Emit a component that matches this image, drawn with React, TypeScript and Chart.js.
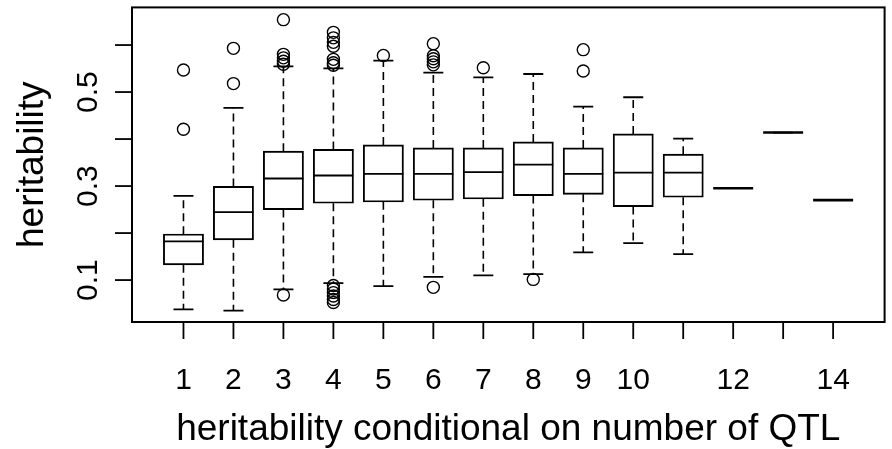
import React, { useEffect, useRef } from "react";
import { Chart, registerables } from "chart.js";

Chart.register(...registerables);

// ---- data ----
const groups = [1, 2, 3, 4, 5, 6, 7, 8, 9, 10, 11, 12, 13, 14];
const xTickLabels = ["1", "2", "3", "4", "5", "6", "7", "8", "9", "10", "", "12", "", "14"];
const lowerWhisker = [0.0377, 0.0348, 0.0802, 0.0936, 0.0873, 0.107, 0.11, 0.1128, 0.1589, 0.1786, 0.1552, 0.2955, 0.4138, 0.27];
const q1 = [0.1325, 0.1857, 0.2502, 0.2636, 0.2664, 0.27, 0.2728, 0.28, 0.2827, 0.2566, 0.2764, 0.2955, 0.4138, 0.27];
const median = [0.1822, 0.2445, 0.3161, 0.3225, 0.3259, 0.3259, 0.3295, 0.3458, 0.3259, 0.3288, 0.3288, 0.2955, 0.4138, 0.27];
const q3 = [0.1977, 0.2991, 0.3741, 0.3777, 0.3875, 0.3811, 0.3811, 0.3939, 0.3811, 0.4109, 0.3677, 0.2955, 0.4138, 0.27];
const upperWhisker = [0.279, 0.4662, 0.5547, 0.5505, 0.5668, 0.5413, 0.5314, 0.5384, 0.4691, 0.4889, 0.4011, 0.2955, 0.4138, 0.27];
const outliers: number[][] = [
  [0.4209, 0.5469],
  [0.518, 0.593],
  [0.0681, 0.559, 0.5654, 0.5728, 0.5802, 0.654],
  [0.0522, 0.0586, 0.066, 0.0734, 0.0809, 0.0883, 0.5569, 0.5622, 0.5696, 0.5973, 0.6057, 0.6153, 0.627],
  [0.578],
  [0.0845, 0.5579, 0.5643, 0.5707, 0.5771, 0.603],
  [0.5516],
  [0.1014],
  [0.5448, 0.5902],
  [],
  [],
  [],
  [],
  [],
];
const yTicks = [0.1, 0.2, 0.3, 0.4, 0.5, 0.6];
const yTickLabels = ["0.1", "", "0.3", "", "0.5", ""];
const xTitle = "heritability conditional on number of QTL";
const yTitle = "heritability";

const FONT = '"Liberation Sans", Arial, Helvetica, sans-serif';

const boxplotPlugin = {
  id: "boxplotParts",
  afterDatasetsDraw(chart: any) {
    const xs = chart.scales.x;
    const ys = chart.scales.y;
    const ctx = chart.ctx;
    ctx.save();
    ctx.strokeStyle = "#000";
    ctx.lineCap = "butt";
    groups.forEach((g, i) => {
      const x = xs.getPixelForValue(g);
      const hw = xs.getPixelForValue(g + 0.4) - x;
      const capHw = hw / 2;
      const yLo = ys.getPixelForValue(lowerWhisker[i]);
      const yQ1 = ys.getPixelForValue(q1[i]);
      const yMed = ys.getPixelForValue(median[i]);
      const yQ3 = ys.getPixelForValue(q3[i]);
      const yHi = ys.getPixelForValue(upperWhisker[i]);
      // dashed whiskers
      ctx.lineWidth = 1.6;
      ctx.setLineDash([8, 5]);
      if (yHi < yQ3) {
        ctx.beginPath();
        ctx.moveTo(x, yQ3);
        ctx.lineTo(x, yHi);
        ctx.stroke();
      }
      if (yLo > yQ1) {
        ctx.beginPath();
        ctx.moveTo(x, yQ1);
        ctx.lineTo(x, yLo);
        ctx.stroke();
      }
      ctx.setLineDash([]);
      // caps
      ctx.lineWidth = 1.8;
      ctx.beginPath();
      ctx.moveTo(x - capHw, yHi);
      ctx.lineTo(x + capHw, yHi);
      ctx.moveTo(x - capHw, yLo);
      ctx.lineTo(x + capHw, yLo);
      ctx.stroke();
      // median
      ctx.lineWidth = q1[i] === q3[i] ? 2.6 : 1.8;
      ctx.beginPath();
      ctx.moveTo(x - hw, yMed);
      ctx.lineTo(x + hw, yMed);
      ctx.stroke();
    });
    ctx.restore();
  },
};

const axesPlugin = {
  id: "rAxes",
  afterDraw(chart: any) {
    const { ctx, chartArea } = chart;
    const xs = chart.scales.x;
    const ys = chart.scales.y;
    ctx.save();
    ctx.strokeStyle = "#000";
    ctx.fillStyle = "#000";
    ctx.lineWidth = 2;
    ctx.strokeRect(chartArea.left, chartArea.top, chartArea.right - chartArea.left, chartArea.bottom - chartArea.top);

    // y axis ticks + labels
    ctx.lineWidth = 1.8;
    ctx.font = `30px ${FONT}`;
    ctx.textAlign = "center";
    ctx.textBaseline = "alphabetic";
    yTicks.forEach((v, i) => {
      const y = ys.getPixelForValue(v);
      ctx.beginPath();
      ctx.moveTo(chartArea.left - 17, y);
      ctx.lineTo(chartArea.left, y);
      ctx.stroke();
      if (yTickLabels[i]) {
        ctx.save();
        ctx.translate(97, y);
        ctx.rotate(-Math.PI / 2);
        ctx.fillText(yTickLabels[i], 0, 0);
        ctx.restore();
      }
    });

    // x axis ticks + labels
    groups.forEach((g, i) => {
      const x = xs.getPixelForValue(g);
      ctx.beginPath();
      ctx.moveTo(x, chartArea.bottom);
      ctx.lineTo(x, chartArea.bottom + 17);
      ctx.stroke();
      if (xTickLabels[i]) {
        ctx.fillText(xTickLabels[i], x, 389);
      }
    });

    // titles
    ctx.font = `37px ${FONT}`;
    const cx = (chartArea.left + chartArea.right) / 2;
    const cy = (chartArea.top + chartArea.bottom) / 2;
    ctx.fillText(xTitle, cx, 440);
    ctx.save();
    ctx.translate(43, cy);
    ctx.rotate(-Math.PI / 2);
    ctx.fillText(yTitle, 0, 0);
    ctx.restore();
    ctx.restore();
  },
};

export default function App() {
  const ref = useRef<HTMLCanvasElement | null>(null);

  useEffect(() => {
    if (!ref.current) return;
    const boxData = groups
      .map((g, i) => ({ x: g, y: [q1[i], q3[i]] }))
      .filter((d) => d.y[0] !== d.y[1]);
    const outlierData = groups.flatMap((g, i) => outliers[i].map((v) => ({ x: g, y: v })));

    const chart = new Chart(ref.current, {
      type: "bar",
      data: {
        datasets: [
          {
            type: "bar",
            label: "box",
            data: boxData as any,
            backgroundColor: "rgba(255,255,255,0)",
            borderColor: "#000",
            borderWidth: 1,
            borderSkipped: false,
            inflateAmount: 0.45,
            barPercentage: 0.8,
            categoryPercentage: 1,
          } as any,
          {
            type: "scatter",
            label: "outliers",
            data: outlierData as any,
            pointStyle: "circle",
            pointRadius: 6,
            pointBorderWidth: 1.4,
            pointBorderColor: "#000",
            pointBackgroundColor: "rgba(255,255,255,0)",
            showLine: false,
          } as any,
        ],
      },
      options: {
        animation: false,
        responsive: false,
        maintainAspectRatio: false,
        events: [],
        layout: { padding: { left: 132, top: 7, right: 3, bottom: 127 } },
        plugins: {
          legend: { display: false },
          tooltip: { enabled: false },
          title: { display: false },
        },
        scales: {
          x: {
            type: "linear",
            display: false,
            min: -0.03,
            max: 15.03,
            offset: false,
            grid: { offset: false },
          },
          y: {
            type: "linear",
            display: false,
            min: 0.0108,
            max: 0.6801,
            beginAtZero: false,
          },
        },
      } as any,
      plugins: [boxplotPlugin, axesPlugin],
    });
    return () => chart.destroy();
  }, []);

  return (
    <div style={{ position: "absolute", left: 0, top: 0, width: 892, height: 449, background: "#fff" }}>
      <canvas ref={ref} width={892} height={449} style={{ display: "block" }} />
    </div>
  );
}
